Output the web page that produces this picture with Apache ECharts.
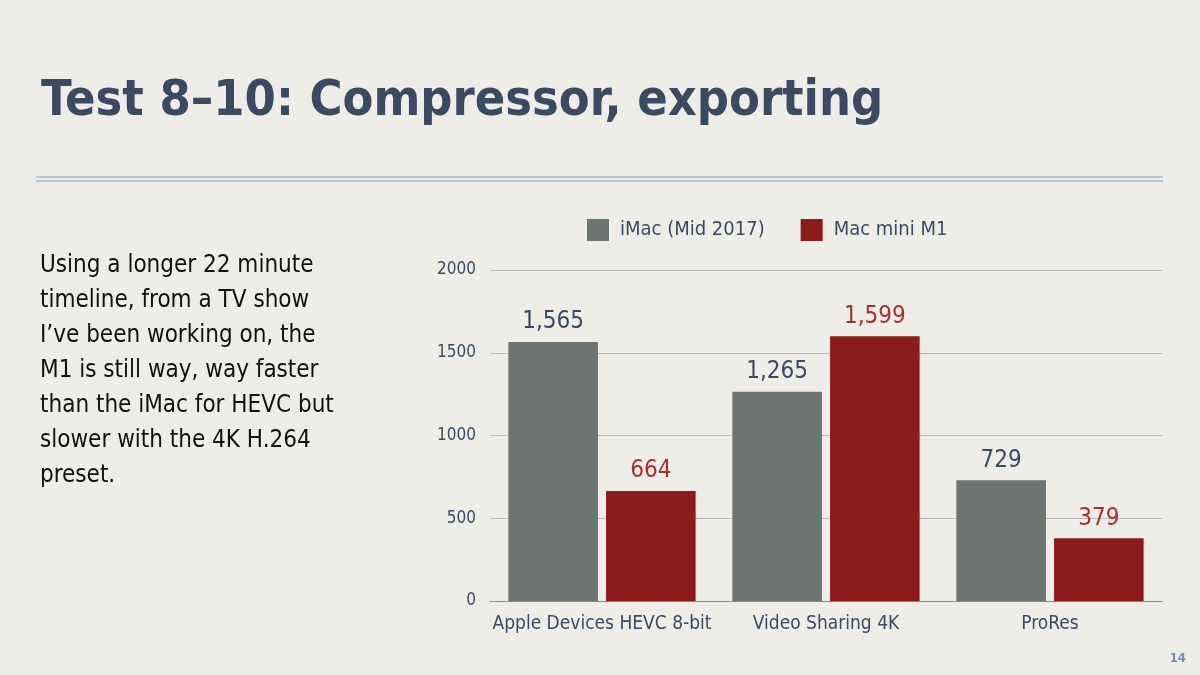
<!DOCTYPE html><html><head><meta charset="utf-8">
<script src="https://cdn.jsdelivr.net/npm/echarts@6/dist/echarts.min.js"></script>
<style>html,body{margin:0;background:#efede8}#c{width:1200px;height:675px}</style></head><body><div id="c"></div>
<script>
const categories=['Apple Devices HEVC 8-bit','Video Sharing 4K','ProRes'];
const imac=[1565,1265,729];
const mini=[664,1599,379];
const yTicks=[0,500,1000,1500,2000];
const F='"DejaVu Sans Condensed","Roboto Condensed",sans-serif';
const c=echarts.init(document.getElementById('c'));
const fmt=p=>p.value.toLocaleString('en-US');
c.setOption({
backgroundColor:'#efede8',
title:{text:'Test 8–10: Compressor, exporting',left:36,top:72,textStyle:{fontFamily:F,fontWeight:900,fontSize:50,color:'#3b4a63'}},
graphic:[
{type:'line',shape:{x1:36,y1:177,x2:1163,y2:177},style:{stroke:'#a9b6c8',lineWidth:1.5}},
{type:'line',shape:{x1:36,y1:181,x2:1163,y2:181},style:{stroke:'#a9b6c8',lineWidth:1.5}},
{type:'text',left:40,top:248,style:{text:'Using a longer 22 minute\ntimeline, from a TV show\nI’ve been working on, the\nM1 is still way, way faster\nthan the iMac for HEVC but\nslower with the 4K H.264\npreset.',fontFamily:F,fontSize:24,lineHeight:35,fill:'#111'}},
{type:'text',right:14,bottom:10,style:{text:'14',fontFamily:F,fontSize:13,fontWeight:'bold',fill:'#6c8cbf'}}
],
legend:{top:214,left:582,itemWidth:22,itemHeight:22,itemGap:36,icon:'rect',textStyle:{fontFamily:F,fontSize:20,color:'#3b4a63',padding:[0,0,0,6]},data:['iMac (Mid 2017)','Mac mini M1']},
grid:{left:490,right:38,top:270,bottom:74},
xAxis:{type:'category',data:categories,axisLine:{lineStyle:{color:'#888'}},axisTick:{show:false},axisLabel:{interval:0,fontFamily:F,fontSize:19,color:'#3b4a63',margin:14}},
yAxis:{type:'value',min:0,max:2000,interval:500,axisLabel:{formatter:v=>String(v),fontFamily:F,fontSize:17,color:'#3b4a63',margin:14},splitLine:{lineStyle:{color:'#bbb'}}},
series:[
{name:'iMac (Mid 2017)',type:'bar',data:imac,barWidth:'40%',barGap:'9%',itemStyle:{color:'#6d7471'},label:{show:true,position:'top',formatter:fmt,fontFamily:F,fontSize:24,color:'#3b4a63',distance:8}},
{name:'Mac mini M1',type:'bar',data:mini,barWidth:'40%',itemStyle:{color:'#8b1c17'},label:{show:true,position:'top',formatter:fmt,fontFamily:F,fontSize:24,color:'#a8312b',distance:8}}
]});
</script></body></html>
